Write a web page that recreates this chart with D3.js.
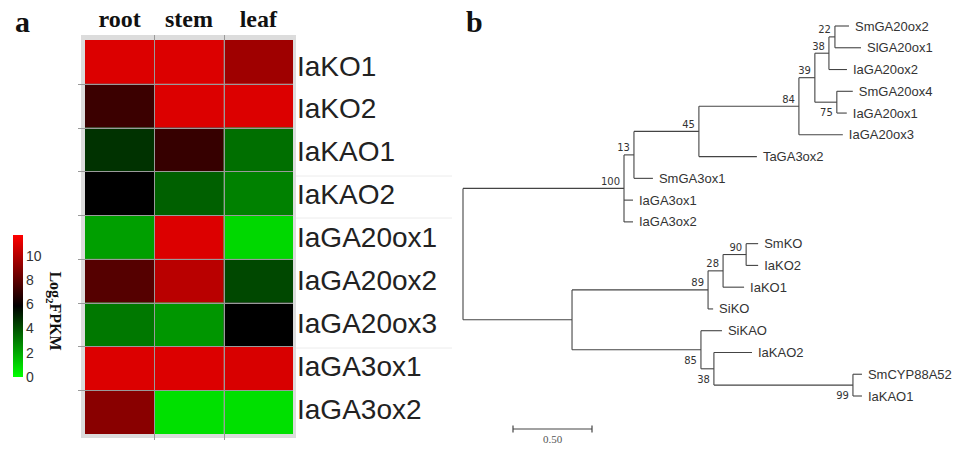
<!DOCTYPE html>
<html>
<head>
<meta charset="utf-8">
<script src="https://cdn.jsdelivr.net/npm/d3@7/dist/d3.min.js"></script>
<style>
  html, body { margin: 0; padding: 0; background: #fff; }
  svg { display: block; }
</style>
</head>
<body>
<svg id="chart" width="960" height="451"></svg>
<script>
// ---------------- DATA ----------------
const genes = ["IaKO1","IaKO2","IaKAO1","IaKAO2","IaGA20ox1","IaGA20ox2","IaGA20ox3","IaGA3ox1","IaGA3ox2"];
const tissues = ["root","stem","leaf"];
const rootValues = [10.9, 7.2, 4.7, 5.85, 2.2, 7.8, 3.1, 10.9, 9.0];
const stemValues = [10.9, 10.9, 7.1, 3.65, 10.9, 10.1, 2.4, 10.9, 0.7];
const leafValues = [9.5, 10.9, 3.3, 2.9, 0.9, 4.2, 5.85, 10.8, 0.7];
const legendTicks = [0, 2, 4, 6, 8, 10];
const legendMax = 11.7;

// tree edges: [parent, child, branch length]
const treeEdges = [
  [null, "root", 0],
  ["root", "n100", 1.019],
  ["n100", "n13", 0.063],
  ["n13", "n45", 0.411],
  ["n45", "n84", 0.633],
  ["n84", "n39", 0.101],
  ["n39", "n38a", 0.089],
  ["n38a", "n22", 0.038],
  ["n22", "SmGA20ox2", 0.089],
  ["n22", "SlGA20ox1", 0.165],
  ["n38a", "IaGA20ox2", 0.114],
  ["n39", "n75", 0.139],
  ["n75", "SmGA20ox4", 0.101],
  ["n75", "IaGA20ox1", 0.063],
  ["n84", "IaGA20ox3", 0.278],
  ["n45", "TaGA3ox2", 0.367],
  ["n13", "SmGA3ox1", 0.120],
  ["n100", "IaGA3ox1", 0.057],
  ["n100", "IaGA3ox2", 0.057],
  ["root", "nB", 0.690],
  ["nB", "n89", 0.861],
  ["n89", "n28", 0.095],
  ["n28", "n90", 0.146],
  ["n90", "SmKO", 0.076],
  ["n90", "IaKO2", 0.076],
  ["n28", "IaKO1", 0.133],
  ["n89", "SiKO", 0.032],
  ["nB", "n85", 0.816],
  ["n85", "SiKAO", 0.133],
  ["n85", "n38b", 0.082],
  ["n38b", "IaKAO2", 0.241],
  ["n38b", "n99", 0.880],
  ["n99", "SmCYP88A52", 0.057],
  ["n99", "IaKAO1", 0.057]
];
const bootstrapNodes = ["n100","n13","n45","n84","n39","n38a","n22","n75","n89","n28","n90","n85","n38b","n99"];
const bootstrapValues = [100, 13, 45, 84, 39, 38, 22, 75, 89, 28, 90, 85, 38, 99];
const bootstrapBelow = ["n75","n85","n38b","n99"];
const scaleBarValue = 0.5;
const scaleBarLabel = "0.50";

// ---------------- DRAW ----------------
const svg = d3.select("#chart");
const serif = "'Liberation Serif','Times New Roman',serif";
const sans = "'Liberation Sans',Arial,sans-serif";

// panel letters
svg.append("text").attr("x", 15).attr("y", 32).text("a")
  .attr("font-family", serif).attr("font-weight", "bold").attr("font-size", 30).attr("fill", "#111");
svg.append("text").attr("x", 466).attr("y", 32).text("b")
  .attr("font-family", serif).attr("font-weight", "bold").attr("font-size", 30).attr("fill", "#111");

// ---- heatmap ----
const valuesByTissue = { root: rootValues, stem: stemValues, leaf: leafValues };
const x = d3.scaleBand().domain(tissues).range([85, 293]);
const y = d3.scaleBand().domain(genes).range([40, 434]);
const color = d3.scaleLinear().domain([0, legendMax / 2, legendMax])
  .range(["#00ff00", "#000000", "#ff0000"]).clamp(true);

// faint background guide lines
const guideY = [176, 218, 348];
svg.append("g").selectAll("line").data(guideY).join("line")
  .attr("x1", 296).attr("x2", 452).attr("y1", d => d).attr("y2", d => d)
  .attr("stroke", "#ececec").attr("stroke-width", 1);

// frame
svg.append("rect").attr("x", 81).attr("y", 35).attr("width", 215).attr("height", 403)
  .attr("fill", "#dcdcdc");

const cells = [];
genes.forEach((g, i) => tissues.forEach(t => cells.push({ gene: g, tissue: t, value: valuesByTissue[t][i] })));
svg.append("g").selectAll("rect").data(cells).join("rect")
  .attr("x", d => x(d.tissue)).attr("y", d => y(d.gene))
  .attr("width", x.bandwidth()).attr("height", y.bandwidth())
  .attr("fill", d => color(d.value));

// grid lines
const grid = svg.append("g").attr("stroke", "#9a9a9a").attr("stroke-width", 1);
grid.selectAll("line.h").data(genes.slice(1)).join("line").attr("class", "h")
  .attr("x1", 78).attr("x2", 293)
  .attr("y1", d => Math.round(y(d)) + 0.5).attr("y2", d => Math.round(y(d)) + 0.5);
grid.selectAll("line.v").data(tissues.slice(1)).join("line").attr("class", "v")
  .attr("x1", d => Math.round(x(d)) + 0.5).attr("x2", d => Math.round(x(d)) + 0.5)
  .attr("y1", 35).attr("y2", 440);

// column headers
svg.append("g").selectAll("text").data(tissues).join("text")
  .attr("x", d => x(d) + x.bandwidth() / 2).attr("y", 27)
  .attr("text-anchor", "middle").text(d => d)
  .attr("font-family", serif).attr("font-weight", "bold").attr("font-size", 24).attr("fill", "#111");

// row labels
const labelY = d3.scalePoint().domain(genes).range([65.5, 408.5]);
svg.append("g").selectAll("text").data(genes).join("text")
  .attr("x", 297).attr("y", d => labelY(d) + 10)
  .text(d => d)
  .attr("font-family", sans).attr("font-size", 28).attr("fill", "#222");

// legend
const defs = svg.append("defs");
const grad = defs.append("linearGradient").attr("id", "lg").attr("x1", 0).attr("y1", 1).attr("x2", 0).attr("y2", 0);
[0, 0.5, 1].forEach(o => grad.append("stop").attr("offset", o).attr("stop-color", color(o * legendMax)));
const ly = d3.scaleLinear().domain([0, legendMax]).range([377, 235]);
svg.append("rect").attr("x", 13).attr("y", ly(legendMax)).attr("width", 10)
  .attr("height", ly(0) - ly(legendMax)).attr("fill", "url(#lg)");
svg.append("g").selectAll("text").data(legendTicks).join("text")
  .attr("x", 26).attr("y", d => ly(d) + 5).text(d => d)
  .attr("font-family", sans).attr("font-size", 14).attr("fill", "#333");
const lt = svg.append("text").attr("transform", "translate(50,311) rotate(90)")
  .attr("text-anchor", "middle")
  .attr("font-family", serif).attr("font-weight", "bold").attr("font-size", 16).attr("fill", "#111");
lt.append("tspan").text("Log");
lt.append("tspan").text("2").attr("font-size", 11).attr("dy", 4);
lt.append("tspan").text("FPKM").attr("dy", -4);

// ---- tree ----
const root = d3.stratify().id(d => d[1]).parentId(d => d[0])(treeEdges);
root.each(n => { n.len = (n.parent ? n.parent.len : 0) + n.data[2]; });
const tx = d3.scaleLinear().domain([0, 1]).range([463, 621]);
const leaves = root.leaves();
const ty = d3.scalePoint().domain(leaves.map(l => l.id)).range([26, 396]);
root.eachAfter(n => {
  if (!n.children) n.yy = ty(n.id);
  else n.yy = (n.children[0].yy + n.children[n.children.length - 1].yy) / 2;
});

const tg = svg.append("g").attr("stroke", "#444").attr("stroke-width", 1.1).attr("fill", "none");
root.descendants().filter(n => n.children).forEach(n => {
  const cx = tx(n.len);
  tg.append("line").attr("x1", cx).attr("x2", cx)
    .attr("y1", n.children[0].yy).attr("y2", n.children[n.children.length - 1].yy);
  n.children.forEach(c => {
    tg.append("line").attr("x1", cx).attr("x2", tx(c.len)).attr("y1", c.yy).attr("y2", c.yy);
  });
});

svg.append("g").selectAll("text").data(leaves).join("text")
  .attr("x", d => tx(d.len) + 6).attr("y", d => d.yy + 4.5).text(d => d.id)
  .attr("font-family", sans).attr("font-size", 13).attr("fill", "#333");

const nodeById = new Map(root.descendants().map(n => [n.id, n]));
svg.append("g").selectAll("text").data(bootstrapNodes).join("text")
  .attr("x", d => tx(nodeById.get(d).len) - 4)
  .attr("y", d => nodeById.get(d).yy + (bootstrapBelow.includes(d) ? 14 : -3.5))
  .attr("text-anchor", "end")
  .text((d, i) => bootstrapValues[i])
  .attr("font-family", "'DejaVu Sans',Verdana,sans-serif").attr("font-size", 10).attr("fill", "#333");

// scale bar
const sbx0 = 513;
const sbx1 = sbx0 + (tx(scaleBarValue) - tx(0));
const sb = svg.append("g").attr("stroke", "#444").attr("stroke-width", 1.2);
sb.append("line").attr("x1", sbx0).attr("x2", sbx1).attr("y1", 429).attr("y2", 429);
sb.append("line").attr("x1", sbx0).attr("x2", sbx0).attr("y1", 425.5).attr("y2", 432.5);
sb.append("line").attr("x1", sbx1).attr("x2", sbx1).attr("y1", 425.5).attr("y2", 432.5);
svg.append("text").attr("x", (sbx0 + sbx1) / 2).attr("y", 443).attr("text-anchor", "middle")
  .text(scaleBarLabel).attr("font-family", serif).attr("font-size", 11).attr("fill", "#555");
</script>
</body>
</html>
